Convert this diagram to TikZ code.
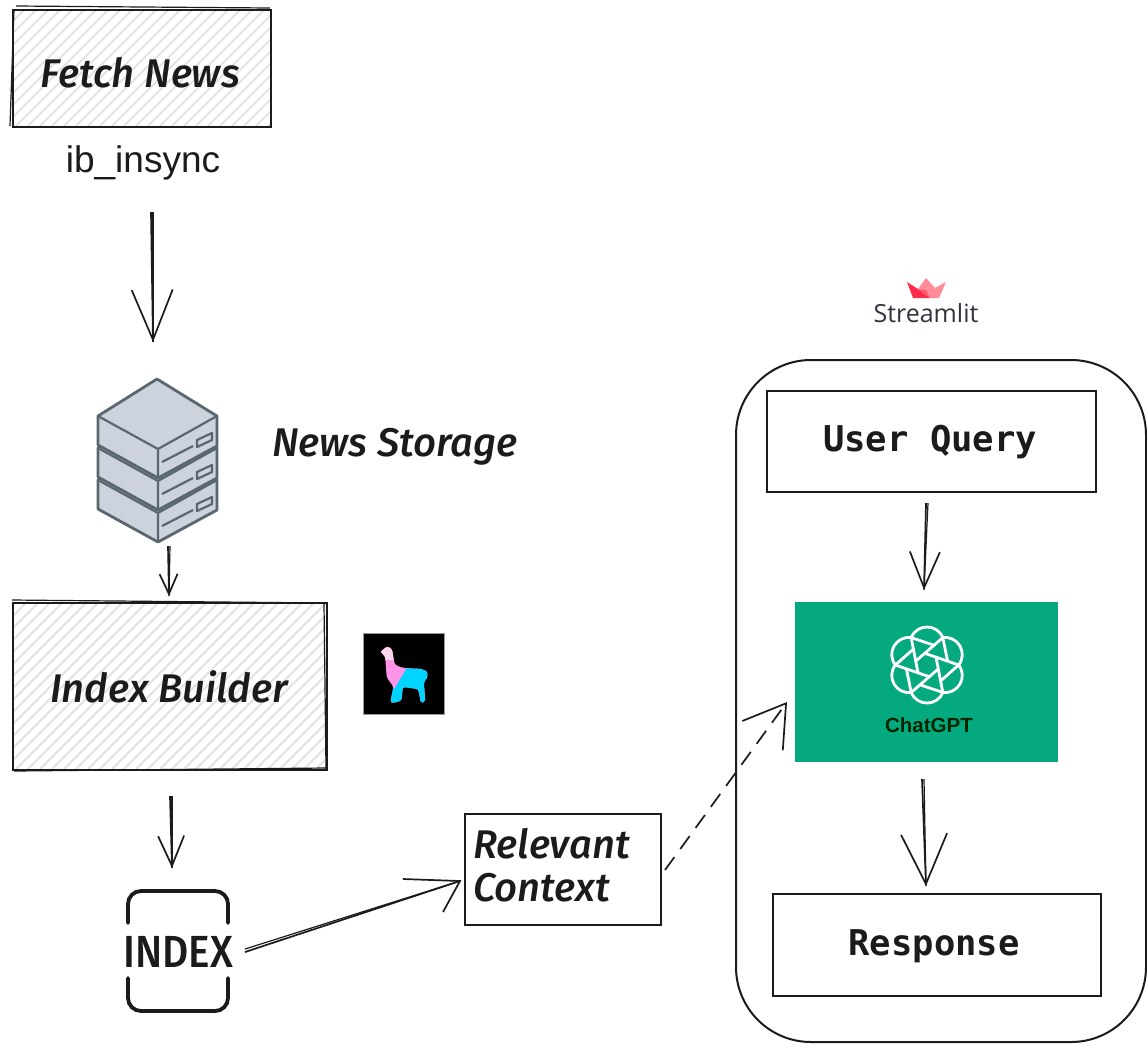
\documentclass[tikz,border=0pt]{standalone}
\usepackage{fontspec}
\setmainfont{Liberation Sans}
\newfontfamily\handfont{Fira Sans Medium Italic}
\newfontfamily\monobold{DejaVu Sans Mono Bold}
\newfontfamily\indexfont{Fira Sans Medium}
\newfontfamily\appfont{Open Sans}
\usetikzlibrary{arrows.meta}
\definecolor{ink}{HTML}{1B1B1B}
\definecolor{hatch}{HTML}{E0E4E8}
\definecolor{srvfill}{HTML}{CCD3DC}
\definecolor{srvline}{HTML}{5B6770}
\definecolor{gptgreen}{HTML}{04A97F}
\definecolor{crownred}{HTML}{FF2B4B}
\definecolor{crownmid}{HTML}{FF5A70}
\definecolor{crownpink}{HTML}{FF8C98}
\definecolor{llamapink}{HTML}{FF94E8}
\definecolor{llamapale}{HTML}{FFD6EE}
\definecolor{llamacyan}{HTML}{00D5FF}
\definecolor{slatetext}{HTML}{31333F}
\tikzset{
  x=1pt,y=-1pt,
  sketchbox/.style={draw=ink,line width=2.2pt,inner sep=0pt,anchor=north west},
  sketchline/.style={draw=ink,line width=1.2pt},
  conn/.style={draw=ink,line width=1.7pt},
  hand/.style={font=\handfont\fontsize{40}{44}\selectfont,text=ink,inner sep=0pt},
  mono/.style={font=\monobold\fontsize{35.5}{38}\selectfont,text=ink,inner sep=0pt},
  srvshape/.style={draw=srvline,fill=srvfill,line width=2.8pt,line join=round},
  srvdetail/.style={draw=srvline,line width=2.2pt,line join=round},
}
\newcommand{\hatchfill}[4]{%
  \begin{scope}
    \clip (#1,#2) rectangle (#3,#4);
    \foreach \k in {-200,-188,...,600}
      \draw[hatch,line width=1.8pt] (#1+\k,#4) -- (#1+\k+200,#4-200);
  \end{scope}}
\newcommand{\srvlayer}[1]{%
  \begin{scope}[shift={(0,#1)}]
    \draw[srvshape] (98,416) -- (157,379) -- (217,416) -- (217,446) -- (158,478) -- (98,445) -- cycle;
    \draw[srvdetail] (98,416) -- (158,449) -- (217,416) (158,449) -- (158,478);
    \draw[srvdetail] (162,462) -- (193,446);
    \draw[srvdetail] (197,440) -- (212,433) -- (212,440) -- (197,447) -- cycle;
  \end{scope}}
\begin{document}
\begin{tikzpicture}
\useasboundingbox (0,0) rectangle (1147,1045);
\fill[white] (0,0) rectangle (1147,1045);

% hatching
\hatchfill{12}{9}{270}{126}
\hatchfill{12}{602}{326}{769}

% sketched boxes
\node[sketchbox,minimum width=258pt,minimum height=117pt] (fetch) at (12,9) {};
\draw[sketchline] (16,6) -- (270,8);
\draw[sketchline] (10,126) -- (14,10);
\node[hand] (fetchtext) at (140,73) {Fetch News};
\node[font=\fontsize{37}{40}\selectfont,text=ink,inner sep=0pt] (ib) at (143,163) {ib\_insync};

% server stack
\srvlayer{64}
\srvlayer{32}
\srvlayer{0}
\node[hand,anchor=west] (storage) at (272,447) {News Storage};

% index builder
\node[sketchbox,minimum width=314pt,minimum height=167pt] (builder) at (12,602) {};
\draw[sketchline] (12,600) -- (326,603);
\draw[sketchline] (14,771) -- (326,768);
\draw[sketchline] (324,604) -- (326,769);
\node[hand] (buildertext) at (169,687) {Index Builder};

% llama
\node[fill=black,draw=black!40,line width=.5pt,minimum size=81pt,inner sep=0pt,anchor=north west] (llama) at (363,633) {};
\begin{scope}
  \clip plot[smooth cycle,tension=.45] coordinates {(381,652) (387,647) (392,650) (395,664) (405,668) (421,669) (427,672) (427,678) (424,683) (425,700) (421,702) (418,690) (410,688) (403,688) (401,700) (391,702) (393,687) (387,677) (385,657)};
  \fill[llamapink] (370,640) rectangle (440,710);
  \fill[llamacyan] (409,664) -- (395,688) -- (385,690) -- (385,710) -- (440,710) -- (440,664) -- cycle;
  \fill[llamapale] (370,640) rectangle (400,660);
\end{scope}

% index icon
\draw[line width=3.8pt,draw=ink,line cap=round,rounded corners=13pt] (128,923) -- (128,891) -- (228,891) -- (228,923);
\draw[line width=3.8pt,draw=ink,line cap=round,rounded corners=13pt] (128,978) -- (128,1011) -- (228,1011) -- (228,978);
\node[font=\indexfont\fontsize{45}{45}\selectfont,text=ink,inner sep=0pt,xscale=.9] (index) at (178,952) {INDEX};

% relevant context
\node[sketchbox,line width=1.8pt,minimum width=196pt,minimum height=111pt] (context) at (464,813) {};
\node[hand,anchor=west] (rel) at (473,844) {Relevant};
\node[hand,anchor=west] (ctx) at (473,888) {Context};

% streamlit
\node[draw=ink,line width=2pt,rounded corners=75pt,minimum width=410pt,minimum height=682pt,inner sep=0pt,anchor=north west] (app) at (735,359) {};
\fill[crownred] (907,282) -- (913,298) -- (930,298) -- (918,289) -- cycle;
\fill[crownpink] (918,289) -- (926,278) -- (935,288) -- (939,298) -- (930,298) -- cycle;
\fill[crownpink] (935,288) -- (946,282) -- (939,298) -- cycle;
\fill[crownmid] (918,289) -- (930,298) -- (926,290) -- cycle;
\node[font=\appfont\fontsize{25}{28}\selectfont,text=slatetext,inner sep=0pt] (streamlit) at (926,313) {Streamlit};

\node[sketchbox,minimum width=329pt,minimum height=101pt] (query) at (766,390) {};
\node[mono] (querytext) at (930,442) {User Query};
\node[sketchbox,minimum width=328pt,minimum height=102pt] (response) at (772,893) {};
\node[mono] (responsetext) at (934,946) {Response};

% chatgpt card
\node[fill=gptgreen,minimum width=263pt,minimum height=160pt,inner sep=0pt,anchor=north west] (gpt) at (795,602) {};
\begin{scope}[shift={(927,665)}]
  \foreach \a in {0,60,...,300}
    \draw[white,line width=2.8pt,rotate=\a,line cap=round,line join=round]
      (31.6,0) .. controls (41.1,12.1) and (30.9,29.5) .. (15.8,27.4)
      (11.4,3.8) -- (-15.8,27.4)
      (31.6,0) -- (13.9,15.7);
\end{scope}
\node[font=\bfseries\fontsize{20.5}{24}\selectfont,text=black!85!green,inner sep=0pt] (gpttext) at (929,725) {ChatGPT};

% connectors
\coordinate (a1s) at (151,212); \coordinate (a1e) at (153,342);
\draw[conn,-{Straight Barb[length=50pt,width=41pt]}] (a1s) -- (a1e);
\draw[sketchline] (153,212) -- (a1e);
\coordinate (a2s) at (168,546); \coordinate (a2e) at (169,596);
\draw[conn,-{Straight Barb[length=20pt,width=18pt]}] (a2s) -- (a2e);
\draw[sketchline] (170,546) -- (a2e);
\coordinate (a3s) at (170,796); \coordinate (a3e) at (172,868);
\draw[conn,-{Straight Barb[length=30pt,width=26pt]}] (a3s) -- (a3e);
\draw[sketchline] (172,796) -- (a3e);
\coordinate (a4s) at (245,952); \coordinate (a4e) at (460,881);
\coordinate (a4l) at (403,879); \coordinate (a4r) at (443,912);
\draw[conn] (a4s) -- (a4e);
\draw[sketchline] (245,949) -- (a4e);
\draw[conn] (a4l) -- (a4e) -- (a4r);
\coordinate (a5s) at (665,870); \coordinate (a5e) at (787,702);
\draw[conn,dash pattern=on 16pt off 10pt,-{Straight Barb[length=40pt,width=50pt]}] (a5s) -- (a5e);
\coordinate (a6s) at (926,503); \coordinate (a6e) at (924,590);
\draw[conn,-{Straight Barb[length=36pt,width=30pt]}] (a6s) -- (a6e);
\draw[sketchline] (928,503) -- (a6e);
\coordinate (a7s) at (922,779); \coordinate (a7e) at (926,886);
\draw[conn,-{Straight Barb[length=50pt,width=46pt]}] (a7s) -- (a7e);
\draw[sketchline] (924,779) -- (a7e);
\end{tikzpicture}
\end{document}
